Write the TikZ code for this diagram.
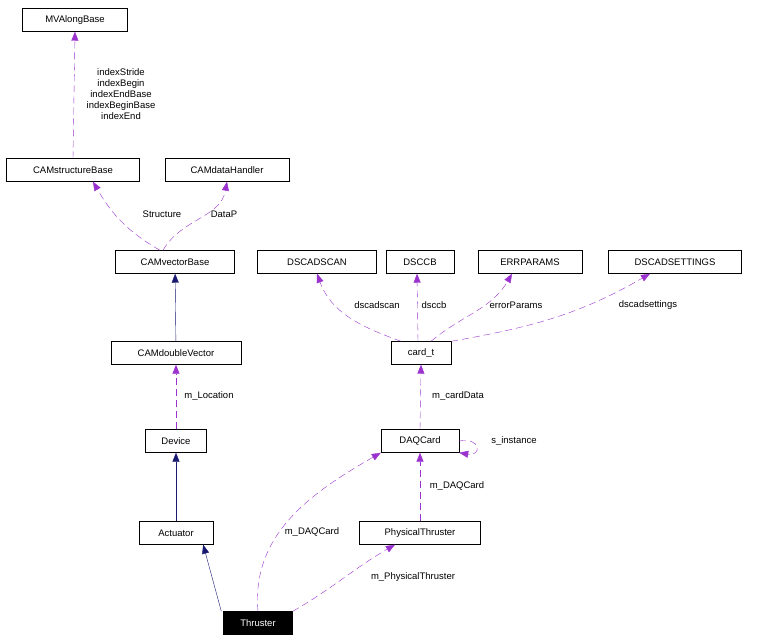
\documentclass[tikz,border=0pt]{standalone}
\usepackage{fontspec}
\setmainfont{Liberation Sans}
\usetikzlibrary{arrows.meta,positioning}

\definecolor{usecol}{HTML}{9A32CD}
\definecolor{inhcol}{HTML}{191970}

\begin{document}
\begin{tikzpicture}[x=1pt,y=-1pt,
  cls/.style={draw,thin,minimum height=23pt,inner xsep=6pt,font=\fontsize{9.5}{10}\selectfont},
  uses/.style={usecol,dash pattern=on 7pt off 4pt,-{Triangle[length=9pt,width=7pt]}},
  inh/.style={inhcol,-{Triangle[length=9pt,width=7pt]}},
  lbl/.style={font=\fontsize{9.5}{11}\selectfont,inner sep=1pt}]
\useasboundingbox (0,0) rectangle (765,644);

% classes
\node[cls,minimum width=105pt] (mva) at (75,20) {MVAlongBase};
\node[cls,minimum width=133pt] (csb) at (73,170) {CAMstructureBase};
\node[cls,minimum width=124pt] (cdh) at (227,170) {CAMdataHandler};
\node[cls,minimum width=119pt] (cvb) at (175,262) {CAMvectorBase};
\node[cls,minimum width=119pt] (dscan) at (317,262) {DSCADSCAN};
\node[cls,minimum width=68pt] (dsccb) at (420,262) {DSCCB};
\node[cls,minimum width=104pt] (errp) at (530,262) {ERRPARAMS};
\node[cls,minimum width=133pt] (dsset) at (675,262) {DSCADSETTINGS};
\node[cls,minimum width=130pt] (cdv) at (176,353) {CAMdoubleVector};
\node[cls,minimum width=60pt] (card) at (421,353) {card\_t};
\node[cls,minimum width=61pt] (dev) at (176,441) {Device};
\node[cls,minimum width=78pt] (daq) at (420,441) {DAQCard};
\node[cls,minimum width=74pt] (act) at (176,533) {Actuator};
\node[cls,minimum width=121pt] (pth) at (420,533) {PhysicalThruster};
\node[cls,minimum width=69pt,fill=black,text=white] (thr) at (258,623) {Thruster};

% inheritance
\draw[inh] (cdv) -- (cvb);
\draw[inh] (act) -- (dev);
\draw[inh] ([xshift=-2pt]thr.north west) -- ([xshift=-10pt]act.south east);

% usage
\draw[uses] (csb.north) -- (mva.south);
\node[lbl,align=center] at (121,94) {indexStride\\indexBegin\\indexEndBase\\indexBeginBase\\indexEnd};
\draw[uses] ([xshift=-15pt]cvb.north) to[out=150,in=-60] ([xshift=20pt]csb.south);
\node[lbl] at (162,214) {Structure};
\draw[uses] ([xshift=-12pt]cvb.north) to[out=60,in=-100] (cdh.south);
\node[lbl] at (224,214) {DataP};
\draw[uses] (dev.north) -- (cdv.south);
\node[lbl] at (209,396) {m\_Location};
\draw[uses] (daq.north) -- (card.south);
\node[lbl] at (458,396) {m\_cardData};
\draw[uses] (daq.east) to[out=10,in=-10,looseness=5] (daq.south east);
\node[lbl] at (514,441) {s\_instance};
\draw[uses] (pth.north) -- (daq.south);
\node[lbl] at (457,486) {m\_DAQCard};
\draw[uses] (thr.north) to[out=95,in=-150] (daq.south west);
\node[lbl] at (312,532) {m\_DAQCard};
\draw[uses] (thr.north east) to[out=30,in=-150] ([xshift=-25pt]pth.south);
\node[lbl] at (413,577) {m\_PhysicalThruster};
\draw[uses] ([xshift=-20pt]card.north) to[out=160,in=-70] (dscan.south);
\node[lbl] at (377,305) {dscadscan};
\draw[uses] ([xshift=-3pt]card.north) -- ([xshift=-3pt]dsccb.south);
\node[lbl] at (434,305) {dsccb};
\draw[uses] ([xshift=10pt]card.north) to[out=40,in=-120] ([xshift=-18pt]errp.south);
\node[lbl] at (516,305) {errorParams};
\draw[uses] (card.north east) to[out=10,in=-150] ([xshift=-25pt]dsset.south);
\node[lbl] at (648,305) {dscadsettings};
\end{tikzpicture}
\end{document}
